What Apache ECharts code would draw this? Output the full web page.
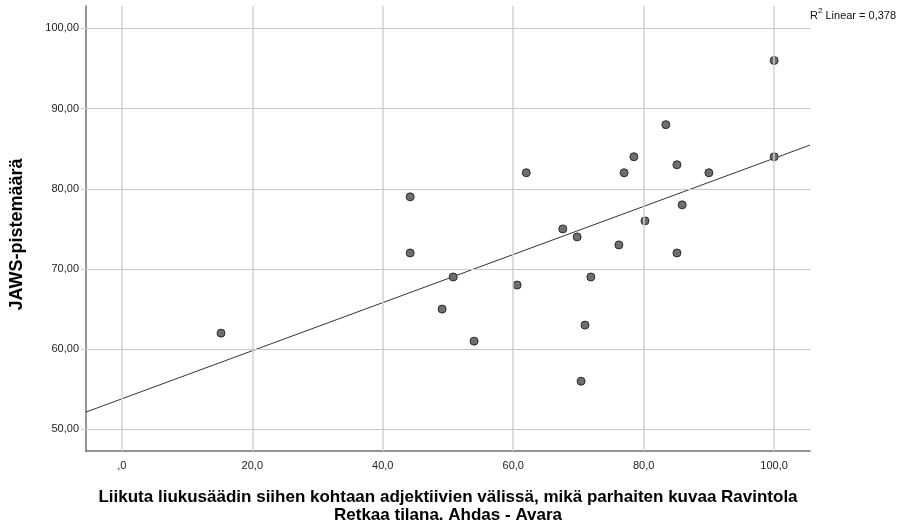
<!DOCTYPE html>
<html>
<head>
<meta charset="utf-8">
<script src="https://cdn.jsdelivr.net/npm/echarts@6/dist/echarts.min.js"></script>
<style>
html,body{margin:0;padding:0;background:#fff;}
#main{width:899px;height:523px;}
</style>
</head>
<body>
<div id="main"></div>
<script>
// liukusäädin (x) ja JAWS-pisteet (y)
var xVals = [15.2, 44.2, 44.2, 50.8, 49.1, 54.0, 62.0, 60.6, 67.6, 69.8, 71.0, 70.4,
             71.9, 76.2, 77.0, 78.5, 80.2, 83.4, 85.1, 85.1, 85.9, 90.0, 100, 100];
var yVals = [62, 79, 72, 69, 65, 61, 82, 68, 75, 74, 63, 56,
             69, 73, 82, 84, 76, 88, 83, 72, 78, 82, 96, 84];
var xTicks = [0, 20, 40, 60, 80, 100];
var yTicks = [50, 60, 70, 80, 90, 100];
var r2Text = '0,378';

var xMin = -5.5, xMax = 105.5;
var yMin = 47.3, yMax = 102.8;

var points = [];
for (var i = 0; i < xVals.length; i++) {
    points.push([xVals[i], yVals[i]]);
}

// pienimmän neliösumman suora
var n = xVals.length, mx = 0, my = 0;
for (var i = 0; i < n; i++) { mx += xVals[i]; my += yVals[i]; }
mx /= n; my /= n;
var sxy = 0, sxx = 0;
for (var i = 0; i < n; i++) {
    sxy += (xVals[i] - mx) * (yVals[i] - my);
    sxx += (xVals[i] - mx) * (xVals[i] - mx);
}
var slope = sxy / sxx;
var icpt = my - slope * mx;
var fitLine = [[xMin, icpt + slope * xMin], [xMax, icpt + slope * xMax]];

var font = 'Arial, "Liberation Sans", sans-serif';

var myChart = echarts.init(document.getElementById('main'));

var option = {
    animation: false,
    grid: {left: 86, right: 89, top: 6, bottom: 72, containLabel: false, outerBoundsMode: 'none'},
    xAxis: {
        type: 'value',
        min: xMin,
        max: xMax,
        name: 'Liikuta liukusäädin siihen kohtaan adjektiivien välissä, mikä parhaiten kuvaa Ravintola\nRetkaa tilana. Ahdas - Avara',
        nameLocation: 'middle',
        nameGap: 37,
        nameTextStyle: {color: '#000', fontSize: 17, fontWeight: 'bold', fontFamily: font, lineHeight: 18, verticalAlign: 'top'},
        axisLine: {show: true, onZero: false, lineStyle: {color: '#707070', width: 1.5}},
        axisTick: {show: false},
        splitLine: {show: false},
        axisLabel: {
            customValues: xTicks,
            color: '#222',
            fontSize: 11,
            fontFamily: font,
            margin: 9,
            formatter: function (v) {
                return v === 0 ? ',0' : v.toFixed(1).replace('.', ',');
            }
        }
    },
    yAxis: {
        type: 'value',
        min: yMin,
        max: yMax,
        name: 'JAWS-pistemäärä',
        nameLocation: 'middle',
        nameGap: 60,
        nameTextStyle: {color: '#000', fontSize: 18, fontWeight: 'bold', fontFamily: font, padding: [0, 12, 0, 0]},
        axisLine: {show: true, onZero: false, lineStyle: {color: '#707070', width: 1.5}},
        axisTick: {show: true, customValues: yTicks, length: 5, lineStyle: {color: '#c8c8c8'}},
        splitLine: {show: false},
        axisLabel: {
            customValues: yTicks,
            color: '#222',
            fontSize: 11,
            fontFamily: font,
            margin: 7,
            formatter: function (v) {
                return v.toFixed(2).replace('.', ',');
            }
        }
    },
    graphic: [{
        type: 'text',
        left: 810,
        top: 7,
        style: {
            text: '{a|R}{s|2}{a| Linear = ' + r2Text + '}',
            rich: {
                a: {fontSize: 11, fontFamily: font, fill: '#111', verticalAlign: 'bottom'},
                s: {fontSize: 8, fontFamily: font, fill: '#111', padding: [0, 0, 6, 0]}
            }
        }
    }],
    series: [
        {
            // pystysuorat ruudukkoviivat
            type: 'line',
            data: [],
            markLine: {
                silent: true,
                symbol: 'none',
                label: {show: false},
                lineStyle: {color: '#d0d0d0', width: 1.5, type: 'solid'},
                data: xTicks.map(function (t) { return {xAxis: t}; })
            },
            z: 1
        },
        {
            // vaakasuorat ruudukkoviivat
            type: 'line',
            data: [],
            markLine: {
                silent: true,
                symbol: 'none',
                label: {show: false},
                lineStyle: {color: '#c8c8c8', width: 1, type: 'solid'},
                data: yTicks.map(function (t) { return {yAxis: t}; })
            },
            z: 1
        },
        {
            type: 'line',
            data: fitLine,
            symbol: 'none',
            lineStyle: {color: '#333', width: 1},
            z: 3
        },
        {
            type: 'scatter',
            data: points,
            symbolSize: 8,
            itemStyle: {color: '#6e6e6e', borderColor: '#2a2a2a', borderWidth: 1, opacity: 1},
            z: 4
        }
    ]
};

myChart.setOption(option);
</script>
</body>
</html>
